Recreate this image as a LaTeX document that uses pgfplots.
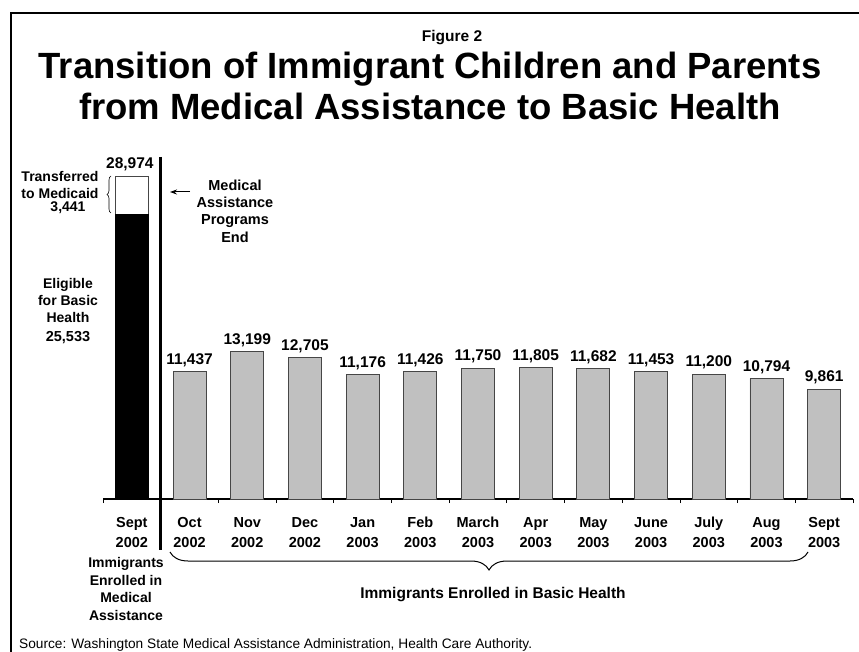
\documentclass[border=0pt]{standalone}
\usepackage{pgfplots}
\pgfplotsset{compat=1.18}
\usepackage{fontspec}
\setmainfont{Liberation Sans}
\usetikzlibrary{decorations.pathreplacing,arrows.meta}
\definecolor{barg}{RGB}{192,192,192}
\definecolor{edgeg}{RGB}{70,70,70}
\begin{document}
\begin{tikzpicture}[x=1pt,y=1pt]
\useasboundingbox (0,0) rectangle (859,651);
% frame
\draw[line width=2pt] (10.5,-2) -- (10.5,638) -- (861,638);
% titles
\node[anchor=base, font=\fontsize{15.5}{18}\selectfont\bfseries] at (452,609) {Figure 2};
\node[anchor=base, font=\fontsize{36.5}{41}\selectfont\bfseries] at (430,572) {Transition of Immigrant Children and Parents};
\node[anchor=base, font=\fontsize{36.5}{41}\selectfont\bfseries] at (430,531) {from Medical Assistance to Basic Health};
\begin{axis}[
  at={(103pt,152pt)}, anchor=south west,
  scale only axis, width=750pt, height=334.44pt,
  xmin=-0.5, xmax=12.5, ymin=0, ymax=30000,
  axis x line*=bottom, hide y axis,
  x axis line style={line width=1.1pt},
  xtick={0,...,12},
  xticklabels={{Sept\strut\\2002},{Oct\strut\\2002},{Nov\strut\\2002},{Dec\strut\\2002},{Jan\strut\\2003},{Feb\strut\\2003},{March\strut\\2003},{Apr\strut\\2003},{May\strut\\2003},{June\strut\\2003},{July\strut\\2003},{Aug\strut\\2003},{Sept\strut\\2003}},
  major tick length=0pt,
  minor xtick={-0.5,0.5,...,12.5},
  minor tick length=4pt, tick align=outside,
  minor tick style={black, line width=0.8pt},
  xticklabel style={align=center, font=\fontsize{14.5}{20}\selectfont\bfseries, yshift=-11pt},
  ytick=\empty,
  clip=false,
  bar width=33pt,
  nodes near coords={\pgfmathprintnumber[assume math mode=true,fixed,precision=0,1000 sep={,}]{\pgfplotspointmeta}},
  every node near coord/.append style={font=\fontsize{15.5}{17}\selectfont\bfseries, black, yshift=1pt},
]
\addplot[ybar, bar shift=0pt, fill=white, draw=edgeg, line width=0.8pt,
  every node near coord/.append style={xshift=-2pt}] coordinates {(0,28974)};
\addplot[ybar, bar shift=0pt, fill=black, draw=black, line width=0.8pt, nodes near coords={}] coordinates {(0,25533)};
\addplot[ybar, bar shift=0pt, fill=barg, draw=edgeg, line width=0.9pt] coordinates {
 (1,11437) (2,13199) (3,12705) (4,11176) (5,11426) (6,11750)
 (7,11805) (8,11682) (9,11453) (10,11200) (11,10794) (12,9861)};
\draw[line width=2.8pt] (axis cs:0.5,30700) -- (axis cs:0.5,-4575);
\end{axis}
% left annotations
\node[align=center, font=\fontsize{14}{17}\selectfont\bfseries] at (60,466) {Transferred\\to Medicaid};
\node[font=\fontsize{14}{17}\selectfont\bfseries] at (68,443) {3,441};
\draw[decorate, decoration={brace, amplitude=4pt}, line width=0.6pt] (111,438) -- (111,475);
\node[align=center, font=\fontsize{14}{17}\selectfont\bfseries] at (68,351) {Eligible\\for Basic\\Health};
\node[font=\fontsize{14.5}{17}\selectfont\bfseries] at (68,313) {25,533};
\node[align=center, font=\fontsize{14.5}{17.3}\selectfont\bfseries] at (235,440) {Medical\\Assistance\\Programs\\End};
\draw[-{Stealth[length=7pt,width=5pt]}, line width=1pt] (190,459) -- (170,459);
% bottom annotations
\node[align=center, font=\fontsize{14}{17.5}\selectfont\bfseries] at (126,62) {Immigrants\\Enrolled in\\Medical\\Assistance};
\draw[decorate, decoration={brace, amplitude=18pt}, line width=1pt] (808,99) -- (170,99);
\node[font=\fontsize{15.5}{18}\selectfont\bfseries] at (493,56) {Immigrants Enrolled in Basic Health};
\node[anchor=base west, font=\fontsize{13.7}{16}\selectfont, inner sep=0pt] at (19,3) {Source: Washington State Medical Assistance Administration, Health Care Authority.};
\end{tikzpicture}
\end{document}
